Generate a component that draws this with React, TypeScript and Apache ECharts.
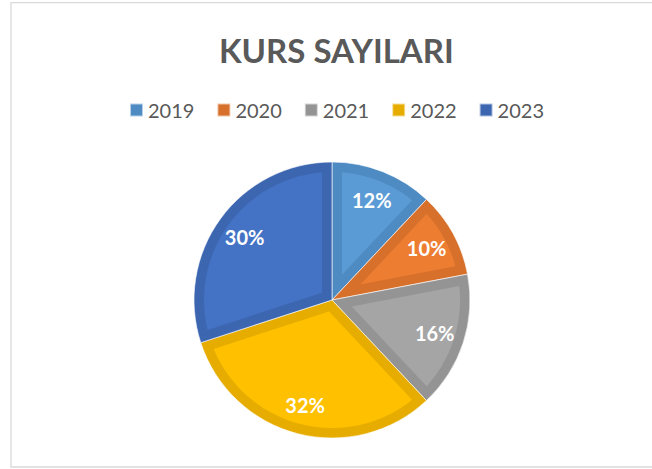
import React, { useEffect, useRef } from "react";
import * as echarts from "echarts";

const years = ["2019", "2020", "2021", "2022", "2023"];
const shares = [12, 10, 16, 32, 30];
const fillColors = ["#5B9BD5", "#ED7D31", "#A5A5A5", "#FFC000", "#4472C4"];
const edgeColors = ["#4E8BC3", "#D6702B", "#949494", "#E6AD00", "#3D66B0"];
const titleText = "KURS SAYILARI";

const BORDER = 10;
const CENTER: [number, number] = [332, 300];
const RADIUS = 138;

export default function App() {
  const ref = useRef<HTMLDivElement>(null);
  useEffect(() => {
    if (!ref.current) return;
    const chart = echarts.init(ref.current, undefined, { renderer: "svg" });
    const total = shares.reduce((a, b) => a + b, 0);
    let acc = 0;
    const spans = shares.map((v) => {
      const s = (acc / total) * 100;
      acc += v;
      return [s, (acc / total) * 100];
    });
    const pieData = years.map((y, i) => ({
      name: y,
      value: shares[i],
      itemStyle: { color: edgeColors[i] },
    }));
    chart.setOption({
      animation: false,
      backgroundColor: "#ffffff",
      title: {
        text: titleText,
        left: 214,
        top: 28,
        textStyle: {
          fontFamily: "Lato",
          fontWeight: "bold",
          fontSize: 33,
          color: "#595959",
        },
      },
      legend: {
        left: 124,
        top: 95,
        itemWidth: 13,
        itemHeight: 13,
        itemGap: 22,
        icon: "rect",
        textStyle: { fontFamily: "Lato", fontSize: 20, color: "#595959" },
        data: years.map((y, i) => ({ name: y, itemStyle: { color: edgeColors[i] } })),
      },
      polar: { center: CENTER, radius: RADIUS },
      angleAxis: { type: "value", min: 0, max: 100, startAngle: 90, clockwise: true, show: false },
      radiusAxis: { type: "value", min: 0, max: 1, show: false },
      graphic: [
        {
          type: "rect",
          shape: { x: 11, y: 2.7, width: 700, height: 464.3 },
          style: { fill: "none", stroke: "#D9D9D9", lineWidth: 1.3 },
          silent: true,
        },
      ],
      series: [
        {
          type: "pie",
          name: "base",
          z: 1,
          center: CENTER,
          radius: [0, RADIUS],
          startAngle: 90,
          clockwise: true,
          label: { show: false },
          labelLine: { show: false },
          itemStyle: { borderColor: "rgba(255,255,255,0.6)", borderWidth: 1 },
          emphasis: { disabled: true },
          data: pieData,
        },
        {
          type: "custom",
          name: "inset",
          z: 5,
          coordinateSystem: "polar",
          silent: true,
          clip: false,
          encode: { radius: 0, angle: 1 },
          data: spans,
          renderItem: (params: any, api: any) => {
            const s = api.value(0);
            const e = api.value(1);
            const c = api.coord([0, s]);
            const edge = api.coord([1, s]);
            const R = Math.hypot(edge[0] - c[0], edge[1] - c[1]);
            const toRad = (2 * Math.PI) / 100;
            const half = ((e - s) * toRad) / 2;
            const d = BORDER / Math.sin(half);
            const dv = Math.asin(BORDER / (R - BORDER)) / toRad;
            const pts: number[][] = [api.coord([d / R, (s + e) / 2])];
            const n = 48;
            for (let k = 0; k <= n; k++) {
              const v = s + dv + ((e - s - 2 * dv) * k) / n;
              pts.push(api.coord([(R - BORDER) / R, v]));
            }
            return {
              type: "polygon",
              z2: 10,
              shape: { points: pts },
              style: { fill: fillColors[params.dataIndex] },
            };
          },
        },
        {
          type: "pie",
          name: "labels",
          z: 10,
          center: CENTER,
          radius: [72, RADIUS],
          startAngle: 90,
          clockwise: true,
          silent: true,
          percentPrecision: 0,
          itemStyle: { color: "rgba(0,0,0,0)" },
          labelLine: { show: false },
          label: {
            show: true,
            position: "inside",
            formatter: "{d}%",
            color: "#FFFFFF",
            fontFamily: "Lato",
            fontWeight: "bold",
            fontSize: 20,
          },
          data: years.map((y, i) => ({ name: y, value: shares[i] })),
        },
      ],
    });
    return () => chart.dispose();
  }, []);
  return (
    <div
      ref={ref}
      style={{ position: "fixed", left: 0, top: 0, width: 652, height: 469 }}
    />
  );
}
